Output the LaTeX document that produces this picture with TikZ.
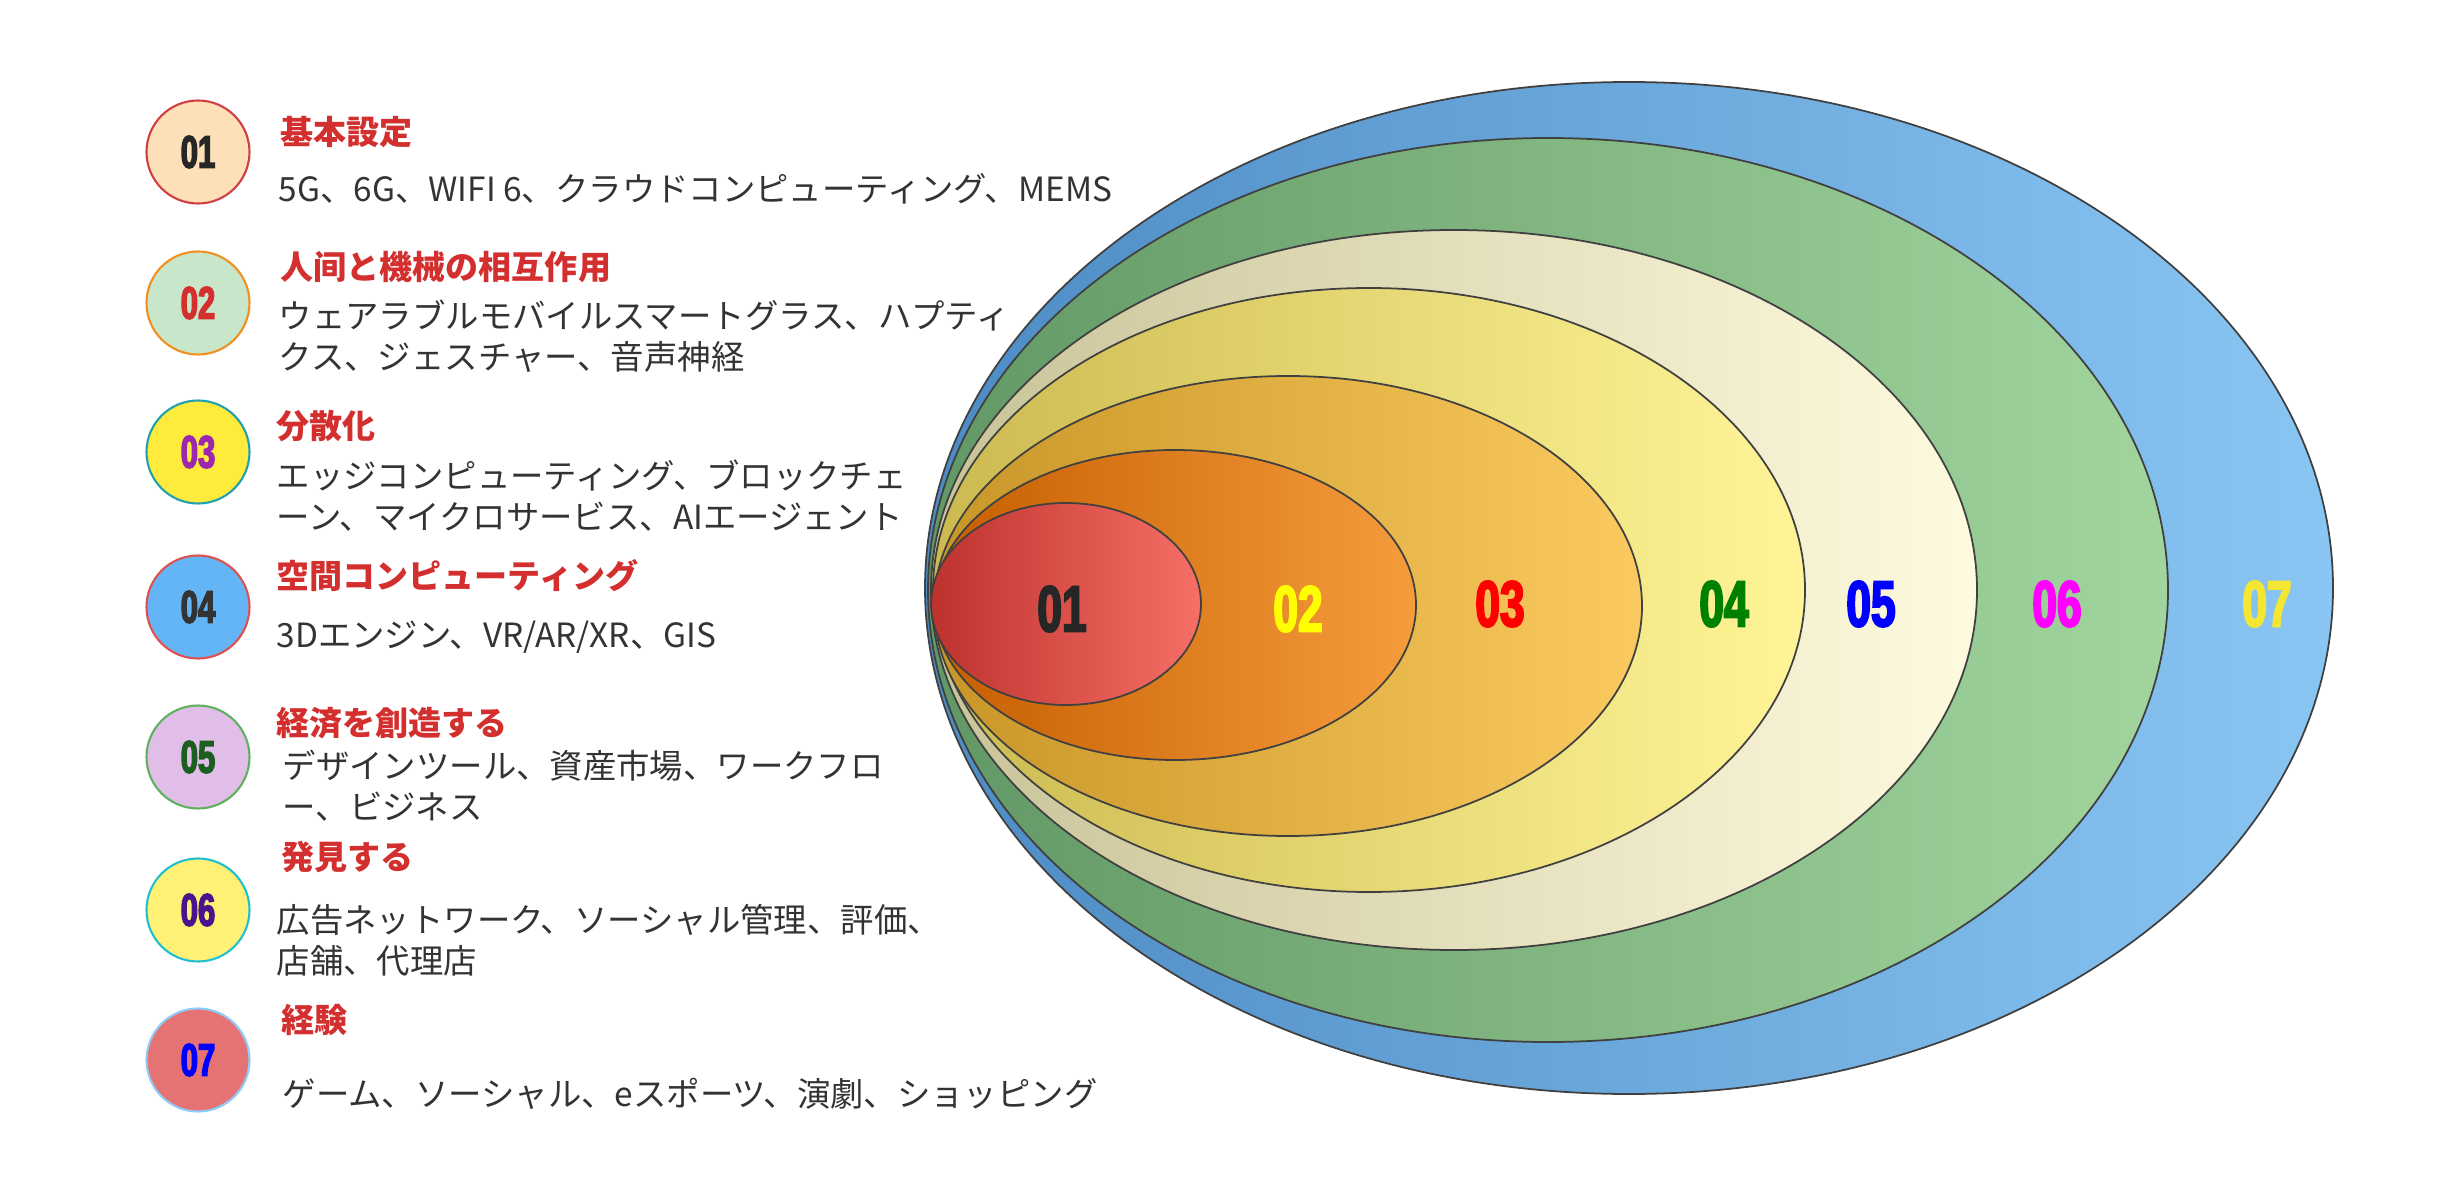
\documentclass[tikz,border=0pt]{standalone}
\usepackage{fontspec}
\usepackage{tikz}
\usetikzlibrary{positioning,shapes.geometric}
\setmainfont{Noto Sans CJK JP}
\newfontfamily\numfont[FakeStretch=0.68,BoldFeatures={FakeBold=3}]{Liberation Sans}
\definecolor{mvred}{RGB}{211,47,47}
\definecolor{mvtext}{RGB}{51,51,51}
% layer shades (left -> right)
\definecolor{lsevA}{RGB}{76,139,196}  \definecolor{lsevB}{RGB}{138,198,243}
\definecolor{lsixA}{RGB}{97,152,101}  \definecolor{lsixB}{RGB}{162,213,158}
\definecolor{lfivA}{RGB}{200,195,152} \definecolor{lfivB}{RGB}{254,250,222}
\definecolor{lfouA}{RGB}{204,186,80}  \definecolor{lfouB}{RGB}{255,245,152}
\definecolor{lthrA}{RGB}{200,150,40}  \definecolor{lthrB}{RGB}{250,202,96}
\definecolor{ltwoA}{RGB}{198,94,0}    \definecolor{ltwoB}{RGB}{245,156,60}
\definecolor{loneA}{RGB}{190,50,45}   \definecolor{loneB}{RGB}{246,112,103}
% badge fills / rims
\definecolor{bonef}{RGB}{253,224,184} \definecolor{boner}{RGB}{208,64,64}
\definecolor{btwof}{RGB}{200,230,201} \definecolor{btwor}{RGB}{240,144,32}
\definecolor{bthrf}{RGB}{255,235,59}  \definecolor{bthrr}{RGB}{32,160,176}
\definecolor{bfouf}{RGB}{100,181,246} \definecolor{bfour}{RGB}{224,80,80}
\definecolor{bfivf}{RGB}{225,190,231} \definecolor{bfivr}{RGB}{96,176,96}
\definecolor{bsixf}{RGB}{255,241,118} \definecolor{bsixr}{RGB}{32,192,208}
\definecolor{bsevf}{RGB}{229,115,115} \definecolor{bsevr}{RGB}{144,202,249}
% number colours
\definecolor{ntwo}{RGB}{255,255,0}
\definecolor{nthr}{RGB}{156,39,176}
\definecolor{nfou}{RGB}{0,128,0}
\definecolor{nfiv}{RGB}{27,94,32}
\definecolor{nsix}{RGB}{74,20,140}
\definecolor{nmag}{RGB}{255,0,255}
\definecolor{nsev}{RGB}{245,230,52}

\begin{document}
\begin{tikzpicture}[x=0.1mm,y=-0.1mm,
  layer/.style={draw=black!75,line width=0.5pt},
  lab/.style={inner sep=0,font=\numfont\bfseries\fontsize{18.5}{21}\selectfont},
  badge/.style={circle,minimum size=10.3mm,inner sep=0,line width=0.6pt,
    font=\numfont\bfseries\fontsize{13}{15}\selectfont},
  head/.style={anchor=west,inner sep=0,text=mvred,font=\bfseries\fontsize{9.4}{11.6}\selectfont},
  desc/.style={anchor=west,inner sep=0,text=mvtext,align=left,font=\fontsize{9.5}{11.6}\selectfont}]
  \useasboundingbox (0,0) rectangle (2439,1197);
  % --- nested layers, outermost first ---
  \foreach \cx/\cy/\rx/\ry/\lc/\rc in {1629/588/704/506/lsevA/lsevB,
        1548/590/620/452/lsixA/lsixB, 1454/590/523/360/lfivA/lfivB,
        1369/590/436/302/lfouA/lfouB, 1288/606/354/230/lthrA/lthrB,
        1175/605/241/155/ltwoA/ltwoB, 1066/604/135/101/loneA/loneB}{%
    \draw[layer,left color=\lc,right color=\rc] (\cx,\cy) ellipse [x radius=\rx, y radius=\ry];}
  % --- layer numbers ---
  \foreach \n/\x/\y/\c in {01/1062/609/black!85, 02/1298/609/ntwo, 03/1500/604/red,
        04/1724/604/nfou, 05/1871/604/blue, 06/2057/604/nmag, 07/2267/604/nsev}{%
    \node[lab,text=\c] (lay\n) at (\x,\y) {\n};}
  % --- legend badges ---
  \foreach \n/\y/\fc/\rc/\tc in {01/152/bonef/boner/black!85, 02/303/btwof/btwor/mvred,
        03/452/bthrf/bthrr/nthr, 04/607/bfouf/bfour/black!80, 05/757/bfivf/bfivr/nfiv,
        06/910/bsixf/bsixr/nsix, 07/1060/bsevf/bsevr/blue}{%
    \node[badge,fill=\fc,draw=\rc,text=\tc] (badge\n) at (198,\y) {\n};}
  % --- legend headings ---
  \foreach \n/\x/\y/\lab in {01/280/132/基本設定, 02/280/267/人间と機械の相互作用,
        03/276/426/分散化, 04/276/576/空間コンピューティング, 05/276/723/経済を創造する,
        06/281/857/発見する, 07/281/1020/経験}{%
    \node[head] (head\n) at (\x,\y) {\lab};}
  % --- legend descriptions ---
  \foreach \n/\x/\y/\lab in {01/278/189/{5G、6G、WIFI 6、クラウドコンピューティング、MEMS},
        02/278/336/{ウェアラブルモバイルスマートグラス、ハプティ\\クス、ジェスチャー、音声神経},
        03/276/496/{エッジコンピューティング、ブロックチェ\\ーン、マイクロサービス、AIエージェント},
        04/276/637/{3Dエンジン、VR/AR/XR、GIS},
        05/282/786/{デザインツール、資産市場、ワークフロ\\ー、ビジネス},
        06/276/940/{広告ネットワーク、ソーシャル管理、評価、\\店舗、代理店},
        07/282/1094/{ゲーム、ソーシャル、eスポーツ、演劇、ショッピング}}{%
    \node[desc] (desc\n) at (\x,\y) {\lab};}
\end{tikzpicture}
\end{document}
